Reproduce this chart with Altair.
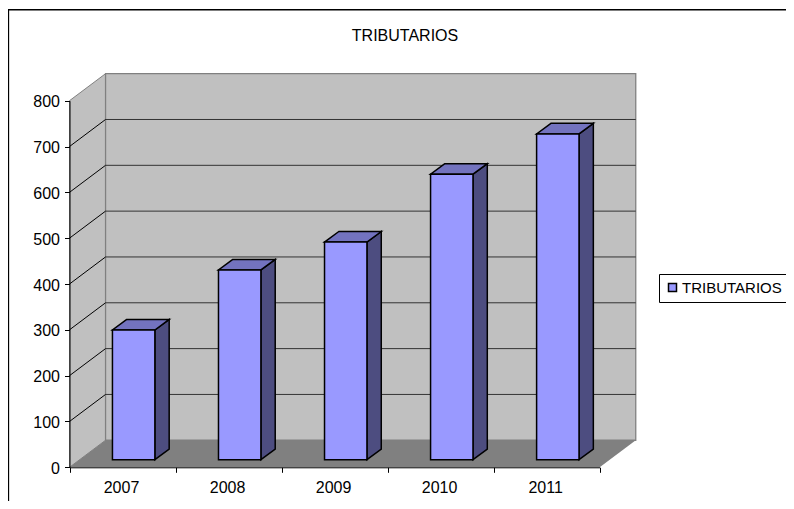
import altair as alt
import pandas as pd

categories = ["2007", "2008", "2009", "2010", "2011"]
values = [283, 414, 475, 623, 711]
grid_values = [100, 200, 300, 400, 500, 600, 700]
series_name = "TRIBUTARIOS"

# depth of the box and the bars, in data units
DX, DY = 0.34, 59
BAR_L, BAR_W, BAR_DX, BASE, BAR_DY = 0.405, 0.40, 0.135, 16.6, 23
N = len(categories)
TOP = 800
W, H = 778, 493

FRONT, SIDE, CAP = "#9999FF", "#4D4D80", "#7373BF"
WALL, FLOOR, EDGE = "#C0C0C0", "#808080", "#808080"

xs = alt.Scale(domain=[0, 5], range=[61.5, 591.7], nice=False, zero=False)
ys = alt.Scale(domain=[0, 800], range=[459.3, 92.7], nice=False, zero=False)
X = alt.X("x:Q", scale=xs)
Y = alt.Y("y:Q", scale=ys, stack=None)
X2 = alt.X2("x2:Q")
Y2 = alt.Y2("y2:Q")

label_expr = "(" + repr(categories) + ")[datum.value] || ''"

axes = alt.Chart(pd.DataFrame({"x": [0, 5], "y": [0, 800]})).mark_point(opacity=0).encode(
    x=alt.X("x:Q", scale=xs, axis=alt.Axis(
        values=list(range(N + 1)), title=None, grid=False, offset=-(H - 459.3), zindex=1,
        labelExpr=label_expr, labelOffset=51.5, labelBound=False, labelFlush=False,
        labelFont="Liberation Sans", labelFontSize=16, labelColor="#000", labelPadding=7,
        tickSize=5, tickColor="#000", domainColor="#000", labelOverlap=False)),
    y=alt.Y("y:Q", scale=ys, axis=alt.Axis(
        values=list(range(0, 900, 100)), title=None, grid=False, offset=-61.5, zindex=1,
        labelFont="Liberation Sans", labelFontSize=16, labelColor="#000", labelPadding=5,
        labelOffset=1, tickSize=5, tickColor="#000", domainColor="#000",
        labelFlush=False, labelBound=False)),
)

side_wall = alt.Chart(pd.DataFrame({
    "x": [0, DX], "y": [0, DY], "y2": [TOP, TOP + DY]
})).mark_area(color=WALL, stroke=EDGE, strokeWidth=1).encode(x=X, y=Y, y2=Y2)

back_wall = alt.Chart(pd.DataFrame({
    "x": [DX], "x2": [N + DX], "y": [DY], "y2": [TOP + DY]
})).mark_rect(color=WALL, stroke=EDGE, strokeWidth=1.3).encode(x=X, x2=X2, y=Y, y2=Y2)

floor = alt.Chart(pd.DataFrame({
    "y": [0, DY], "x": [0, DX], "x2": [N, N + DX]
})).mark_area(color=FLOOR, orient="horizontal").encode(x=X, x2=X2, y=Y)

grid_back = alt.Chart(pd.DataFrame({
    "x": [DX] * len(grid_values), "x2": [N + DX] * len(grid_values),
    "y": [v + DY for v in grid_values]
})).mark_rule(color="#333333", strokeWidth=1).encode(x=X, x2=X2, y=Y)

grid_side = alt.Chart(pd.DataFrame({
    "x": [0] * len(grid_values), "x2": [DX] * len(grid_values),
    "y": grid_values, "y2": [v + DY for v in grid_values]
})).mark_rule(color="#000000", strokeWidth=1).encode(x=X, x2=X2, y=Y, y2=Y2)

side_rows, cap_rows, front_rows = [], [], []
for i, (c, v) in enumerate(zip(categories, values)):
    x0 = i + BAR_L
    x1 = x0 + BAR_W
    top = BASE + v
    side_rows += [
        {"c": c, "x": x1, "y": BASE, "y2": top},
        {"c": c, "x": x1 + BAR_DX, "y": BASE + BAR_DY, "y2": top + BAR_DY},
    ]
    cap_rows += [
        {"c": c, "y": top, "x": x0, "x2": x1},
        {"c": c, "y": top + BAR_DY, "x": x0 + BAR_DX, "x2": x1 + BAR_DX},
    ]
    front_rows.append({"c": c, "x": x0, "x2": x1, "y": BASE, "y2": top, "s": series_name})

bar_side = alt.Chart(pd.DataFrame(side_rows)).mark_area(
    color=SIDE, stroke="#000", strokeWidth=1.5, strokeJoin="miter"
).encode(x=X, y=Y, y2=Y2, detail="c:N")

bar_cap = alt.Chart(pd.DataFrame(cap_rows)).mark_area(
    color=CAP, stroke="#000", strokeWidth=1.5, orient="horizontal", strokeJoin="miter"
).encode(x=X, x2=X2, y=Y, detail="c:N")

bar_front = alt.Chart(pd.DataFrame(front_rows)).mark_rect(
    stroke="#000", strokeWidth=1.5
).encode(
    x=X, x2=X2, y=Y, y2=Y2,
    color=alt.Color("s:N", scale=alt.Scale(domain=[series_name], range=[FRONT]), legend=alt.Legend(
        title=None, orient="none", legendX=651, legendY=266,
        strokeColor="#000", fillColor="#fff", padding=6,
        symbolType="square", symbolSize=64, symbolStrokeColor="#000", symbolStrokeWidth=1.5,
        labelFont="Liberation Sans", labelFontSize=15, labelColor="#000", labelOffset=2,
    )),
)

frame_left = alt.Chart(pd.DataFrame({"a": [0]})).mark_rule(color="#000", strokeWidth=1.5).encode(
    x=alt.value(0.4), y=alt.value(1.7), y2=alt.value(H))
frame_top = alt.Chart(pd.DataFrame({"a": [0]})).mark_rule(color="#000", strokeWidth=1.5).encode(
    x=alt.value(0), x2=alt.value(W), y=alt.value(1.7))

chart = alt.layer(
    axes, side_wall, back_wall, floor, grid_back, grid_side,
    bar_side, bar_cap, bar_front, frame_left, frame_top,
).properties(
    width=W, height=H, padding=0,
    autosize=alt.AutoSizeParams(type="none"),
    title=alt.Title(series_name, font="Liberation Sans", fontSize=16, fontWeight="normal",
                    color="#000", anchor="middle", offset=-36, dx=8),
    background="#ffffff",
).configure_view(stroke=None)

chart.save("out.html", embed_options={"renderer": "svg", "actions": False})
